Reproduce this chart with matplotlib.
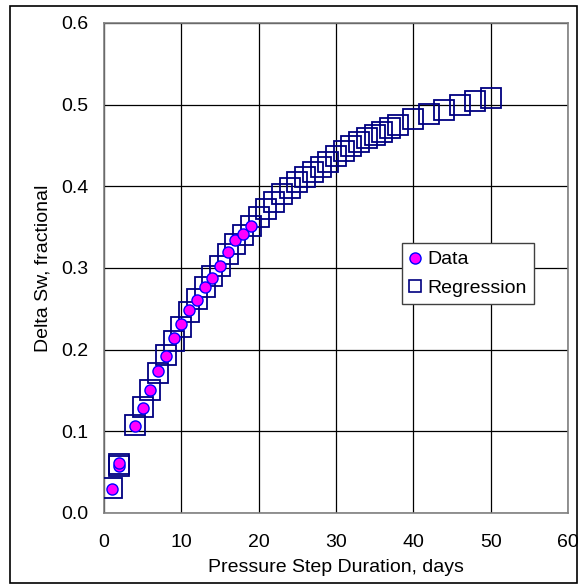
import matplotlib
matplotlib.use("Agg")
import matplotlib.pyplot as plt
from matplotlib.lines import Line2D
from matplotlib.patches import Rectangle

plt.rcParams['font.family'] = ['Liberation Sans', 'DejaVu Sans']

# measured data
data_days = [1, 2, 2, 4, 5, 6, 7, 8, 9, 10, 11, 12, 13, 14, 15, 16, 17, 18, 19]
data_dsw = [0.029, 0.058, 0.061, 0.107, 0.129, 0.151, 0.174, 0.192, 0.214, 0.232,
            0.249, 0.261, 0.277, 0.288, 0.303, 0.320, 0.334, 0.342, 0.351]

# regression curve points
reg_days = [1, 2, 2, 4, 5, 6, 7, 8, 9, 10, 11, 12, 13, 14, 15, 16, 17, 18, 19,
            20, 21, 22, 23, 24, 25, 26, 27, 28, 29, 30, 31, 32, 33, 34, 35, 36,
            37, 38, 40, 42, 44, 46, 48, 50]
reg_dsw = [0.031, 0.058, 0.060, 0.108, 0.130, 0.151, 0.171, 0.193, 0.211, 0.228,
           0.246, 0.262, 0.277, 0.290, 0.302, 0.317, 0.329, 0.340, 0.351,
           0.362, 0.372, 0.381, 0.390, 0.398, 0.405, 0.412, 0.418, 0.424, 0.430,
           0.437, 0.443, 0.449, 0.454, 0.459, 0.463, 0.467, 0.471, 0.475,
           0.482, 0.488, 0.494, 0.499, 0.504, 0.508]

x_ticks = [0, 10, 20, 30, 40, 50, 60]
y_ticks = [0.0, 0.1, 0.2, 0.3, 0.4, 0.5, 0.6]

fig = plt.figure(figsize=(5.79, 5.86), dpi=100)
ax = fig.add_axes([0.1796, 0.1246, 0.8014, 0.8362])

ax.plot(reg_days, reg_dsw, linestyle='none', marker='s', markersize=14,
        markerfacecolor='none', markeredgecolor='#000080', markeredgewidth=1.3,
        zorder=3)
ax.plot(data_days, data_dsw, linestyle='none', marker='o', markersize=8,
        markerfacecolor='#ff00ff', markeredgecolor='#0000ff', markeredgewidth=1,
        zorder=4)

ax.set_xlim(0, 60)
ax.set_ylim(0, 0.6)
ax.set_xticks(x_ticks)
ax.set_yticks(y_ticks)
ax.set_yticklabels([f'{v:.1f}' for v in y_ticks])
ax.tick_params(length=0, labelsize=14, colors='black')
ax.tick_params(axis='y', pad=11)
ax.tick_params(axis='x', pad=15)
ax.grid(True, color='black', linewidth=0.9)
ax.set_axisbelow(True)
for s in ax.spines.values():
    s.set_color('#808080')
    s.set_linewidth(1.2)

ax.set_xlabel('Pressure Step Duration, days', fontsize=14, labelpad=6)
ax.set_ylabel('Delta Sw, fractional', fontsize=14, labelpad=7)

handles = [
    Line2D([], [], linestyle='none', marker='o', markersize=8,
           markerfacecolor='#ff00ff', markeredgecolor='#0000ff'),
    Line2D([], [], linestyle='none', marker='s', markersize=8,
           markerfacecolor='none', markeredgecolor='#000080', markeredgewidth=1.2),
]
leg = ax.legend(handles, ['Data', 'Regression'], loc='upper left',
                bbox_to_anchor=(0.642, 0.551), fontsize=14, fancybox=False,
                framealpha=1, edgecolor='#404040', handlelength=0.6,
                handletextpad=0.3, borderpad=0.4, labelspacing=0.55,
                borderaxespad=0)
leg.get_frame().set_linewidth(1)

fig.patches.append(Rectangle((0.0173, 0.005), 0.979, 0.985, transform=fig.transFigure,
                             fill=False, edgecolor='black', linewidth=1.2))

fig.savefig('out.png', dpi=100)
